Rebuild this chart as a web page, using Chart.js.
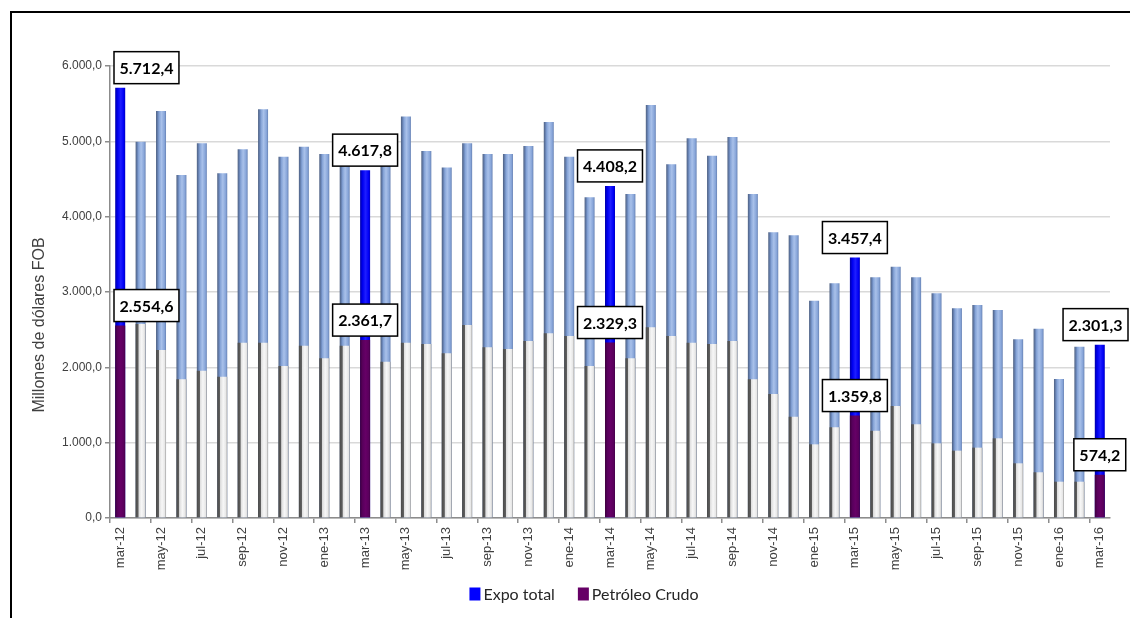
<!DOCTYPE html>
<html>
<head>
<meta charset="utf-8">
<script src="https://cdn.jsdelivr.net/npm/chart.js@4.4.1/dist/chart.umd.min.js"></script>
<style>
  html, body { margin: 0; padding: 0; background: #fff; }
  #wrap { position: relative; width: 1130px; height: 618px; overflow: hidden; }
  #frame { position: absolute; left: 10px; top: 11px; width: 1300px; height: 800px;
           border-left: 2.5px solid #000; border-top: 2.5px solid #000; }
  canvas { position: absolute; left: 0; top: 0; }
</style>
</head>
<body>
<div id="wrap">
  <div id="frame"></div>
  <canvas id="chart" width="1130" height="618"></canvas>
</div>
<script>
// Monthly exports, millones de dólares FOB
const months = [
  'mar-12','abr-12','may-12','jun-12','jul-12','ago-12','sep-12','oct-12','nov-12','dic-12',
  'ene-13','feb-13','mar-13','abr-13','may-13','jun-13','jul-13','ago-13','sep-13','oct-13','nov-13','dic-13',
  'ene-14','feb-14','mar-14','abr-14','may-14','jun-14','jul-14','ago-14','sep-14','oct-14','nov-14','dic-14',
  'ene-15','feb-15','mar-15','abr-15','may-15','jun-15','jul-15','ago-15','sep-15','oct-15','nov-15','dic-15',
  'ene-16','feb-16','mar-16'
];

const expoTotal = [
  5712.4, 4996, 5403, 4553, 4974, 4575, 4894, 5425, 4796, 4929,
  4832, 4670, 4617.8, 4760, 5328, 4872, 4651, 4974, 4832, 4832, 4938, 5257,
  4796, 4257, 4408.2, 4301, 5483, 4695, 5040, 4810, 5058, 4301, 3792, 3752,
  2885, 3115, 3457.4, 3195, 3336, 3195, 2983, 2783, 2827, 2761, 2372, 2513,
  1845, 2274, 2301.3
];

const petroleoCrudo = [
  2554.6, 2575, 2230, 1841, 1956, 1876, 2327, 2327, 2018, 2287,
  2120, 2287, 2361.7, 2075, 2327, 2310, 2186, 2562, 2266, 2243, 2350, 2452,
  2416, 2018, 2329.3, 2120, 2532, 2416, 2327, 2310, 2350, 1841, 1646, 1345,
  978, 1204, 1359.8, 1159, 1487, 1244, 991, 894, 934, 1058, 726, 607,
  482, 482, 574.2
];

// March of each year is highlighted and labelled
const highlightedMonths = ['mar-12', 'mar-13', 'mar-14', 'mar-15', 'mar-16'];

const yMin = 0, yMax = 6000, yStep = 1000;
const seriesNames = ['Expo total', 'Petróleo Crudo'];

function fmtEs(v) {
  const parts = Number(v).toFixed(1).split('.');
  return parts[0].replace(/\B(?=(\d{3})+(?!\d))/g, '.') + ',' + parts[1];
}

const isHi = i => highlightedMonths.includes(months[i]);

const BAR_PCT = 0.49;

// horizontal "cylinder" shading for each bar
function shaded(stopsNormal, stopsHi) {
  return ctx => {
    const chart = ctx.chart;
    const xs = chart.scales && chart.scales.x;
    const stops = isHi(ctx.dataIndex) ? stopsHi : stopsNormal;
    if (!xs || !chart.chartArea || ctx.dataIndex === undefined) return stops[Math.floor(stops.length / 2)][1];
    const cx = xs.getPixelForValue(ctx.dataIndex);
    const w = xs.width / months.length * BAR_PCT;
    const g = chart.ctx.createLinearGradient(cx - w / 2, 0, cx + w / 2, 0);
    stops.forEach(s => g.addColorStop(s[0], s[1]));
    return g;
  };
}

const expoStops = [[0, '#4d5f80'], [0.22, '#6f8cc0'], [0.3, '#85a3d6'], [0.55, '#a9c1ea'], [0.85, '#86a4d8'], [1, '#6681b3']];
const expoHiStops = [[0, '#0000a8'], [0.25, '#0000f0'], [0.55, '#1e1eff'], [0.85, '#0000f5'], [1, '#0000c0']];
const petStops = [[0, '#4a4a4a'], [0.27, '#606060'], [0.31, '#dcdcdc'], [0.6, '#f7f7f7'], [0.88, '#e6e6e6'], [1, '#9a9a9a']];
const petHiStops = [[0, '#3e003e'], [0.25, '#58005c'], [0.55, '#660066'], [0.85, '#5a005c'], [1, '#44004a']];

const legendColors = ['#0000ff', '#660066'];

// boxed value labels above the highlighted bars
const valueLabels = {
  id: 'valueLabels',
  afterDatasetsDraw(chart) {
    const ctx = chart.ctx;
    const area = chart.chartArea;
    ctx.save();
    ctx.font = 'bold 16px Lato';
    ctx.textAlign = 'center';
    ctx.textBaseline = 'middle';
    [0, 1].forEach(di => {
      const meta = chart.getDatasetMeta(di);
      const data = chart.data.datasets[di].data;
      meta.data.forEach((el, i) => {
        if (!isHi(i)) return;
        const txt = fmtEs(data[i]);
        const w = ctx.measureText(txt).width + 11;
        const h = 32;
        let left = el.x - w / 2;
        left = Math.max(left, area.left + 4);
        left = Math.min(left, chart.width - 2 - w);
        const top = el.y - 4 - h;
        ctx.fillStyle = '#fff';
        ctx.fillRect(left, top, w, h);
        ctx.lineWidth = 1.5;
        ctx.strokeStyle = '#000';
        ctx.strokeRect(left, top, w, h);
        ctx.fillStyle = '#000';
        ctx.fillText(txt, left + w / 2, top + h / 2 + 1);
      });
    });
    ctx.restore();
  }
};

// axis title and legend
const annotations = {
  id: 'annotations',
  afterDraw(chart) {
    const ctx = chart.ctx;
    ctx.save();
    ctx.fillStyle = '#404040';
    ctx.font = '16px "Liberation Sans"';
    ctx.textAlign = 'center';
    ctx.textBaseline = 'middle';
    ctx.translate(40, 325);
    ctx.rotate(-Math.PI / 2);
    ctx.fillText('Millones de dólares FOB', 0, 0);
    ctx.restore();

    ctx.save();
    ctx.font = '16px Lato';
    ctx.textBaseline = 'middle';
    const sw = 11, gap = 3, itemGap = 23;
    const widths = seriesNames.map(n => ctx.measureText(n).width);
    const total = widths.reduce((a, b) => a + b, 0) + seriesNames.length * (sw + gap) + itemGap * (seriesNames.length - 1);
    let x = 584 - total / 2;
    const cy = 594;
    seriesNames.forEach((n, k) => {
      ctx.fillStyle = legendColors[k];
      ctx.fillRect(x, cy - 6.5, sw, 13);
      x += sw + gap;
      ctx.fillStyle = '#262626';
      ctx.fillText(n, x, cy + 1);
      x += widths[k] + itemGap;
    });
    ctx.restore();
  }
};

new Chart(document.getElementById('chart'), {
  type: 'bar',
  data: {
    labels: months,
    datasets: [
      {
        label: seriesNames[0],
        data: expoTotal,
        backgroundColor: shaded(expoStops, expoHiStops),
        order: 2,
        grouped: false,
        categoryPercentage: 1,
        barPercentage: BAR_PCT
      },
      {
        label: seriesNames[1],
        data: petroleoCrudo,
        backgroundColor: shaded(petStops, petHiStops),
        order: 1,
        grouped: false,
        categoryPercentage: 1,
        barPercentage: BAR_PCT
      }
    ]
  },
  options: {
    responsive: false,
    animation: false,
    devicePixelRatio: 1,
    layout: { padding: { top: 66, right: 20, left: 0, bottom: 0 } },
    plugins: {
      legend: { display: false },
      tooltip: { enabled: false }
    },
    scales: {
      x: {
        offset: true,
        grid: {
          offset: true,
          drawOnChartArea: false,
          tickLength: 5,
          lineWidth: 1.5,
          color: c => (c.index % 2 === 0 ? '#8c8c8c' : 'rgba(0,0,0,0)')
        },
        border: { color: '#8c8c8c', width: 1.5 },
        ticks: {
          autoSkip: false,
          minRotation: 90,
          maxRotation: 90,
          padding: 4,
          color: '#404040',
          font: { family: 'Liberation Sans', size: 13 },
          callback: (v, i) => (i % 2 === 0 ? months[i] : '')
        },
        afterFit: s => { s.height = 100; }
      },
      y: {
        min: yMin,
        max: yMax,
        ticks: {
          stepSize: yStep,
          padding: 3,
          color: '#404040',
          font: { family: 'Liberation Sans', size: 12 },
          callback: v => fmtEs(v)
        },
        grid: { color: '#d9d9d9', lineWidth: 1.5, tickColor: '#8c8c8c', tickLength: 5 },
        border: { color: '#8c8c8c', width: 1.5 },
        afterFit: s => { s.width = 110; }
      }
    }
  },
  plugins: [valueLabels, annotations]
});
</script>
</body>
</html>
